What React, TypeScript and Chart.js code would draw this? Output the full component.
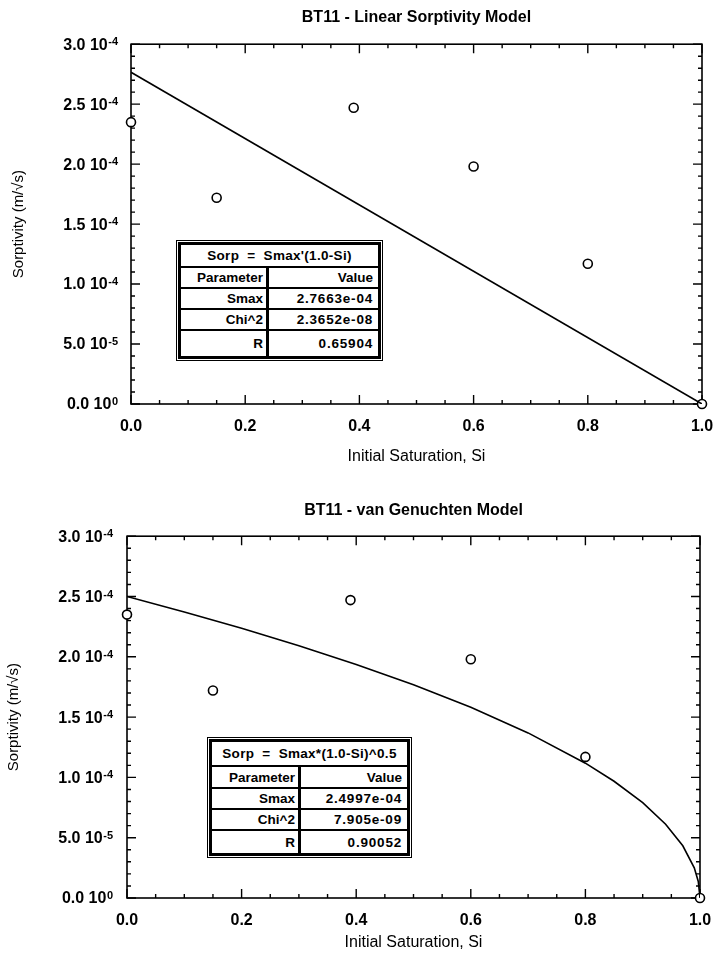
import React, { useEffect, useRef } from "react";
import { Chart, registerables } from "chart.js";

Chart.register(...registerables);

// ---------- data ----------
const siObserved = [0.0, 0.15, 0.39, 0.6, 0.8, 1.0];
const sorptivityObserved = [2.35e-4, 1.72e-4, 2.47e-4, 1.98e-4, 1.17e-4, 0];

const linearFitSi = [0, 1];
const linearFitS = [2.7663e-4, 0];

const vgFitSi = [0, 0.1, 0.2, 0.3, 0.4, 0.5, 0.6, 0.7, 0.8, 0.85, 0.9, 0.94, 0.97, 0.99, 0.997, 1.0];
const vgFitS = [
  2.5e-4, 2.371e-4, 2.236e-4, 2.091e-4, 1.936e-4, 1.768e-4, 1.581e-4, 1.369e-4,
  1.118e-4, 0.968e-4, 0.79e-4, 0.612e-4, 0.433e-4, 0.25e-4, 0.137e-4, 0,
];

const xTickValues = [0, 0.2, 0.4, 0.6, 0.8, 1.0];
const xTickLabels = ["0.0", "0.2", "0.4", "0.6", "0.8", "1.0"];
const yTickValues = [0, 0.5e-4, 1.0e-4, 1.5e-4, 2.0e-4, 2.5e-4, 3.0e-4];
const yTickMantissa = ["0.0 10", "5.0 10", "1.0 10", "1.5 10", "2.0 10", "2.5 10", "3.0 10"];
const yTickExponent = ["0", "-5", "-4", "-4", "-4", "-4", "-4"];
const xMinorStep = 0.05;
const yMinorStep = 0.1e-4;

const tableParams = ["Smax", "Chi^2", "R"];
const linearValues = ["2.7663e-04", "2.3652e-08", "0.65904"];
const vgValues = ["2.4997e-04", "7.905e-09", "0.90052"];

const FONT = "'Liberation Sans', Arial, Helvetica, sans-serif";

const frameTicksPlugin = {
  id: "frameTicks",
  beforeDatasetsDraw(chart: any) {
    const { ctx, chartArea: a, scales } = chart;
    const x = scales.x;
    const y = scales.y;
    ctx.save();
    ctx.strokeStyle = "#000";
    ctx.lineWidth = 1.6;
    ctx.strokeRect(a.left, a.top, a.right - a.left, a.bottom - a.top);
    ctx.lineWidth = 1.4;
    ctx.beginPath();
    const nx = Math.round((x.max - x.min) / xMinorStep);
    for (let i = 0; i <= nx; i++) {
      const px = x.getPixelForValue(x.min + i * xMinorStep);
      const len = i % 4 === 0 ? 9 : 4;
      ctx.moveTo(px, a.bottom);
      ctx.lineTo(px, a.bottom - len);
      ctx.moveTo(px, a.top);
      ctx.lineTo(px, a.top + len);
    }
    const ny = Math.round((y.max - y.min) / yMinorStep);
    for (let i = 0; i <= ny; i++) {
      const py = y.getPixelForValue(y.min + i * yMinorStep);
      const len = i % 5 === 0 ? 9 : 4;
      ctx.moveTo(a.left, py);
      ctx.lineTo(a.left + len, py);
      ctx.moveTo(a.right, py);
      ctx.lineTo(a.right - len, py);
    }
    ctx.stroke();

    // y tick labels with superscript exponent
    const pad = chart.options.plugins.frameTicks.yLabelPad;
    ctx.fillStyle = "#000";
    ctx.textAlign = "right";
    yTickValues.forEach((v, i) => {
      const py = y.getPixelForValue(v);
      const xr = a.left - pad;
      ctx.font = `bold 11px ${FONT}`;
      ctx.textBaseline = "alphabetic";
      const ew = ctx.measureText(yTickExponent[i]).width;
      ctx.fillText(yTickExponent[i], xr, py + 1);
      ctx.font = `bold 16px ${FONT}`;
      ctx.textBaseline = "middle";
      ctx.fillText(yTickMantissa[i], xr - ew - 0.5, py + 1);
    });
    ctx.restore();
  },
};

type PanelCfg = {
  top: number;
  height: number;
  title: string;
  fitX: number[];
  fitY: number[];
  yWidth: number;
  padRight: number;
  titlePad: { top: number; bottom: number };
  xHeight: number;
  xTickPad: number;
  xTitlePadBottom: number;
  yTitlePadTop: number;
  yTickPad: number;
  table: {
    left: number;
    top: number;
    width: number;
    col1: number;
    eq: string;
    values: string[];
    rowH: number[];
    titleH: number;
  };
};

function FitTable({ t }: { t: PanelCfg["table"] }) {
  const rows = [["Parameter", "Value"], ...tableParams.map((p, i) => [p, t.values[i]])];
  return (
    <div
      style={{
        position: "absolute",
        left: t.left,
        top: t.top,
        width: t.width,
        boxSizing: "border-box",
        border: "1px solid #000",
        padding: 1,
        background: "#fff",
        fontFamily: FONT,
        fontWeight: "bold",
        fontSize: 13.5,
        color: "#000",
      }}
    >
      <div style={{ border: "3px solid #000" }}>
        <div
          style={{
            height: t.titleH,
            display: "flex",
            alignItems: "center",
            justifyContent: "center",
            borderBottom: "2px solid #000",
            whiteSpace: "pre",
            letterSpacing: 0.3,
          }}
        >
          {t.eq}
        </div>
        {rows.map((r, i) => (
          <div
            key={i}
            style={{
              display: "flex",
              height: t.rowH[i],
              borderBottom: i < rows.length - 1 ? "2px solid #000" : "none",
            }}
          >
            <div
              style={{
                width: t.col1,
                boxSizing: "border-box",
                borderRight: "3px solid #000",
                display: "flex",
                alignItems: "center",
                justifyContent: "flex-end",
                paddingRight: 3,
              }}
            >
              {r[0]}
            </div>
            <div
              style={{
                flex: 1,
                display: "flex",
                alignItems: "center",
                justifyContent: "flex-end",
                paddingRight: 5,
                letterSpacing: i === 0 ? 0 : 0.8,
              }}
            >
              {r[1]}
            </div>
          </div>
        ))}
      </div>
    </div>
  );
}

function Panel({ cfg }: { cfg: PanelCfg }) {
  const ref = useRef<HTMLCanvasElement>(null);
  useEffect(() => {
    const fitData = cfg.fitX.map((v, i) => ({ x: v, y: cfg.fitY[i] }));
    const obsData = siObserved.map((v, i) => ({ x: v, y: sorptivityObserved[i] }));
    const chart = new Chart(ref.current as HTMLCanvasElement, {
      type: "scatter",
      data: {
        datasets: [
          {
            type: "line",
            data: fitData,
            borderColor: "#000",
            borderWidth: 1.6,
            pointRadius: 0,
            fill: false,
            tension: 0,
          } as any,
          {
            data: obsData,
            pointRadius: 4.5,
            pointBorderWidth: 1.6,
            pointBorderColor: "#000",
            pointBackgroundColor: "#fff",
            clip: false,
          } as any,
          {
            data: obsData,
            pointRadius: 0.9,
            pointBorderWidth: 0,
            pointBackgroundColor: "#000",
            clip: false,
          } as any,
        ],
      },
      options: {
        animation: false,
        responsive: false,
        events: [],
        layout: { padding: { left: 0, right: cfg.padRight, top: 0, bottom: 0 } },
        plugins: {
          legend: { display: false },
          tooltip: { enabled: false },
          frameTicks: { yLabelPad: cfg.yTickPad },
          title: {
            display: true,
            text: cfg.title,
            fullSize: false,
            color: "#000",
            font: { family: FONT, size: 16, weight: "bold" },
            padding: cfg.titlePad,
          },
        },
        scales: {
          x: {
            type: "linear",
            min: 0,
            max: 1,
            afterBuildTicks: (s: any) => {
              s.ticks = xTickValues.map((v) => ({ value: v }));
            },
            afterFit: (s: any) => {
              s.height = cfg.xHeight;
              s.paddingLeft = 0;
              s.paddingRight = 0;
            },
            grid: { display: false, drawTicks: false },
            border: { display: false },
            ticks: {
              color: "#000",
              padding: cfg.xTickPad,
              maxRotation: 0,
              font: { family: FONT, size: 16, weight: "bold" },
              callback: (_v: any, i: number) => xTickLabels[i],
            },
            title: {
              display: true,
              text: "Initial Saturation, Si",
              color: "#000",
              font: { family: FONT, size: 16 },
              padding: { top: 0, bottom: cfg.xTitlePadBottom },
            },
          },
          y: {
            type: "linear",
            min: 0,
            max: 3e-4,
            afterBuildTicks: (s: any) => {
              s.ticks = yTickValues.map((v) => ({ value: v }));
            },
            afterFit: (s: any) => {
              s.width = cfg.yWidth;
            },
            grid: { display: false, drawTicks: false },
            border: { display: false },
            ticks: { display: false },
            title: {
              display: true,
              text: "Sorptivity (m/√s)",
              color: "#000",
              font: { family: FONT, size: 15 },
              padding: { top: cfg.yTitlePadTop, bottom: 0 },
            },
          },
        },
      },
      plugins: [frameTicksPlugin],
    } as any);
    return () => chart.destroy();
  }, []);
  return (
    <div style={{ position: "absolute", left: 0, top: cfg.top, width: 721, height: cfg.height }}>
      <canvas ref={ref} width={721} height={cfg.height} style={{ display: "block" }} />
      <FitTable t={cfg.table} />
    </div>
  );
}

const panel1: PanelCfg = {
  top: 0,
  height: 470,
  title: "BT11 - Linear Sorptivity Model",
  fitX: linearFitSi,
  fitY: linearFitS,
  yWidth: 131,
  padRight: 19,
  titlePad: { top: 8, bottom: 17 },
  xHeight: 66,
  xTickPad: 13,
  xTitlePadBottom: 3.5,
  yTitlePadTop: 10,
  yTickPad: 13,
  table: {
    left: 176,
    top: 240,
    width: 207,
    col1: 88,
    eq: "Sorp  =  Smax'(1.0-Si)",
    values: linearValues,
    titleH: 21,
    rowH: [19, 19, 19, 25],
  },
};

const panel2: PanelCfg = {
  top: 470,
  height: 493,
  title: "BT11 - van Genuchten Model",
  fitX: vgFitSi,
  fitY: vgFitS,
  yWidth: 127,
  padRight: 21,
  titlePad: { top: 31, bottom: 16 },
  xHeight: 65,
  xTickPad: 12.5,
  xTitlePadBottom: 10.5,
  yTitlePadTop: 5,
  yTickPad: 14,
  table: {
    left: 207,
    top: 737 - 470,
    width: 205,
    col1: 89,
    eq: "Sorp  =  Smax*(1.0-Si)^0.5",
    values: vgValues,
    titleH: 23,
    rowH: [20, 19, 19, 22],
  },
};

export default function App() {
  return (
    <div style={{ position: "absolute", left: 0, top: 0, width: 721, height: 963, background: "#fff" }}>
      <Panel cfg={panel1} />
      <Panel cfg={panel2} />
    </div>
  );
}
